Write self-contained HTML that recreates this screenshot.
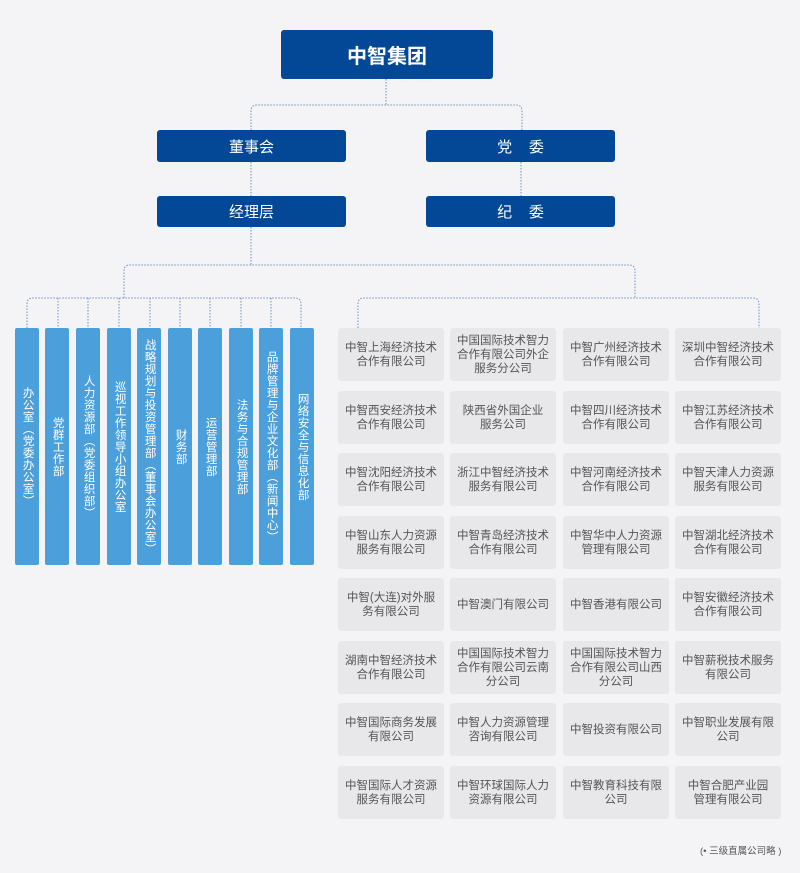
<!DOCTYPE html>
<html><head><meta charset="utf-8"><style>
*{margin:0;padding:0;box-sizing:border-box}
body{width:800px;height:873px;background:#f4f4f6;position:relative;overflow:hidden;font-family:"Liberation Sans","Noto Sans CJK SC",sans-serif}
.b{position:absolute;background:#024897;color:#fff;border-radius:3px;display:flex;align-items:center;justify-content:center}
.c{position:absolute;top:328px;width:24px;height:237px;background:#4ba0dc;border-radius:2px;color:#fff;font-size:11.5px;writing-mode:vertical-rl;display:flex;align-items:center;justify-content:center;line-height:1.15;letter-spacing:0.5px}
.g{position:absolute;width:106px;height:53px;background:#e8e8ea;border-radius:3px;color:#555;font-size:11.5px;line-height:14px;display:flex;align-items:center;justify-content:center;text-align:center}
svg{position:absolute;left:0;top:0}
</style></head><body>
<svg width="800" height="873">
<g fill="none" stroke="#6c8fc4" stroke-width="1" stroke-dasharray="1.5,1.5">
<path d="M386 79V105M251 130V111Q251 105 257 105H516Q522 105 522 111V130"/>
<path d="M251 162V196M521 162V196"/>
<path d="M251 227V265M124 298V271Q124 265 130 265H629Q635 265 635 271V298"/>
<path d="M27 328V304Q27 298 33 298H295Q301 298 301 304V328"/>
<path d="M58 298V328M88 298V328M119 298V328M150 298V328M180 298V328M210 298V328M241 298V328M271 298V328"/>
<path d="M358 328V304Q358 298 364 298H753Q759 298 759 304V328"/>
</g>
</svg>
<div class="b" style="left:281px;top:30px;width:212px;height:49px;font-size:20px;font-weight:bold">中智集团</div>
<div class="b" style="left:157px;top:130px;width:189px;height:32px;font-size:15px">董事会</div>
<div class="b" style="left:426px;top:130px;width:189px;height:32px;font-size:15px">党&nbsp;&nbsp;&nbsp;&nbsp;委</div>
<div class="b" style="left:157px;top:196px;width:189px;height:31px;font-size:15px">经理层</div>
<div class="b" style="left:426px;top:196px;width:189px;height:31px;font-size:15px">纪&nbsp;&nbsp;&nbsp;&nbsp;委</div>

<div class="c" style="left:15px">办公室（党委办公室）</div>
<div class="c" style="left:45px">党群工作部</div>
<div class="c" style="left:76px">人力资源部（党委组织部）</div>
<div class="c" style="left:107px">巡视工作领导小组办公室</div>
<div class="c" style="left:137px">战略规划与投资管理部（董事会办公室）</div>
<div class="c" style="left:168px">财务部</div>
<div class="c" style="left:198px">运营管理部</div>
<div class="c" style="left:229px">法务与合规管理部</div>
<div class="c" style="left:259px">品牌管理与企业文化部（新闻中心）</div>
<div class="c" style="left:290px">网络安全与信息化部</div>

<div class="g" style="left:338px;top:328px">中智上海经济技术<br>合作有限公司</div>
<div class="g" style="left:450px;top:328px">中国国际技术智力<br>合作有限公司外企<br>服务分公司</div>
<div class="g" style="left:563px;top:328px">中智广州经济技术<br>合作有限公司</div>
<div class="g" style="left:675px;top:328px">深圳中智经济技术<br>合作有限公司</div>

<div class="g" style="left:338px;top:391px">中智西安经济技术<br>合作有限公司</div>
<div class="g" style="left:450px;top:391px">陕西省外国企业<br>服务公司</div>
<div class="g" style="left:563px;top:391px">中智四川经济技术<br>合作有限公司</div>
<div class="g" style="left:675px;top:391px">中智江苏经济技术<br>合作有限公司</div>

<div class="g" style="left:338px;top:453px">中智沈阳经济技术<br>合作有限公司</div>
<div class="g" style="left:450px;top:453px">浙江中智经济技术<br>服务有限公司</div>
<div class="g" style="left:563px;top:453px">中智河南经济技术<br>合作有限公司</div>
<div class="g" style="left:675px;top:453px">中智天津人力资源<br>服务有限公司</div>

<div class="g" style="left:338px;top:516px">中智山东人力资源<br>服务有限公司</div>
<div class="g" style="left:450px;top:516px">中智青岛经济技术<br>合作有限公司</div>
<div class="g" style="left:563px;top:516px">中智华中人力资源<br>管理有限公司</div>
<div class="g" style="left:675px;top:516px">中智湖北经济技术<br>合作有限公司</div>

<div class="g" style="left:338px;top:578px">中智(大连)对外服<br>务有限公司</div>
<div class="g" style="left:450px;top:578px">中智澳门有限公司</div>
<div class="g" style="left:563px;top:578px">中智香港有限公司</div>
<div class="g" style="left:675px;top:578px">中智安徽经济技术<br>合作有限公司</div>

<div class="g" style="left:338px;top:641px">湖南中智经济技术<br>合作有限公司</div>
<div class="g" style="left:450px;top:641px">中国国际技术智力<br>合作有限公司云南<br>分公司</div>
<div class="g" style="left:563px;top:641px">中国国际技术智力<br>合作有限公司山西<br>分公司</div>
<div class="g" style="left:675px;top:641px">中智薪税技术服务<br>有限公司</div>

<div class="g" style="left:338px;top:703px">中智国际商务发展<br>有限公司</div>
<div class="g" style="left:450px;top:703px">中智人力资源管理<br>咨询有限公司</div>
<div class="g" style="left:563px;top:703px">中智投资有限公司</div>
<div class="g" style="left:675px;top:703px">中智职业发展有限<br>公司</div>

<div class="g" style="left:338px;top:766px">中智国际人才资源<br>服务有限公司</div>
<div class="g" style="left:450px;top:766px">中智环球国际人力<br>资源有限公司</div>
<div class="g" style="left:563px;top:766px">中智教育科技有限<br>公司</div>
<div class="g" style="left:675px;top:766px">中智合肥产业园<br>管理有限公司</div>

<div style="position:absolute;left:700px;top:843px;font-size:9.5px;color:#555;white-space:nowrap">(• 三级直属公司略 )</div>
</body></html>
